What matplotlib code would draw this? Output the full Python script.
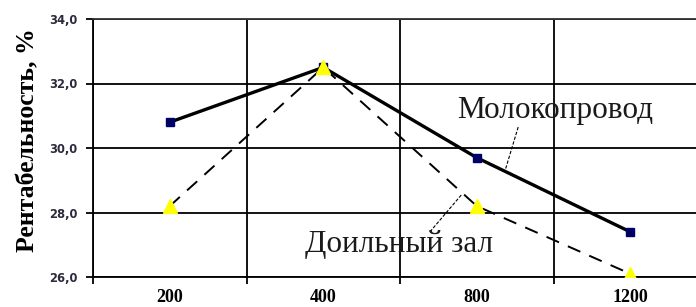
import matplotlib
matplotlib.use('Agg')
import matplotlib.pyplot as plt
import numpy as np

# herd size categories
categories = ['200', '400', '800', '1200']
milk_pipeline = [30.8, 32.5, 29.7, 27.4]   # Молокопровод
milking_parlor = [28.2, 32.5, 28.2, 26.1]  # Доильный зал
y_ticks = [26.0, 28.0, 30.0, 32.0, 34.0]

serif = ['Liberation Serif', 'DejaVu Serif']

fig = plt.figure(figsize=(6.96, 3.07), dpi=100)
ax = fig.add_axes([93 / 696, 1 - 277 / 307, 614 / 696, 258 / 307])

x = np.arange(len(categories))

ax.plot(x, milk_pipeline, color='black', lw=2.4, marker='s', ms=5.5,
        mfc='#000066', mec='#000066', zorder=3, solid_capstyle='butt')
ax.plot(x, milking_parlor, color='black', lw=1.4, ls=(0, (7, 5)),
        marker='^', ms=10.5, mfc='#ffff00', mec='#ffff00', zorder=4)

ax.set_xlim(-0.5, 3.5)
ax.set_ylim(26, 34)
ax.set_yticks(y_ticks)
ax.yaxis.set_major_formatter(matplotlib.ticker.FuncFormatter(
    lambda v, p: ('%.1f' % v).replace('.', ',')))

ax.set_xticks(x)
ax.set_xticklabels(categories)
ax.set_xticks([-0.5, 0.5, 1.5, 2.5, 3.5], minor=True)
ax.tick_params(axis='x', which='major', length=0, pad=9)
ax.tick_params(axis='x', which='minor', length=5, width=1.3, direction='out')
ax.tick_params(axis='y', length=5, width=1.3, direction='out', pad=6)

for lab in ax.get_xticklabels():
    lab.set_family(serif)
    lab.set_fontweight('bold')
    lab.set_fontsize(13)
for lab in ax.get_yticklabels():
    lab.set_family('DejaVu Sans')
    lab.set_fontweight('bold')
    lab.set_fontsize(8.3)
    lab.set_color('#2b2b3b')

ax.grid(True, axis='y', which='major', color='black', lw=1.3)
ax.grid(True, axis='x', which='minor', color='black', lw=1.3)
ax.set_axisbelow(True)
for side in ['top', 'right', 'bottom', 'left']:
    ax.spines[side].set_linewidth(1.3)
ax.spines['top'].set_color('#333333')

ax.set_ylabel('Рентабельность, %', family=serif, fontweight='bold',
              fontsize=18.5)
ax.yaxis.set_label_coords(-0.088, 0.53)

# series labels with leader lines
ax.text(1.87, 30.93, 'Молокопровод', family=serif, fontsize=22.5,
        color='#1a1a1a', ha='left', va='baseline')
ax.plot([2.27, 2.184], [30.65, 29.29], color='black', lw=0.8, ls=(0, (3, 1.5)), zorder=2)
ax.text(0.88, 26.78, 'Доильный зал', family=serif, fontsize=22.5,
        color='#1a1a1a', ha='left', va='baseline')
ax.plot([1.695, 1.904], [27.40, 28.57], color='black', lw=0.8, ls=(0, (3, 1.5)), zorder=2)

fig.savefig('out.png', dpi=100)
